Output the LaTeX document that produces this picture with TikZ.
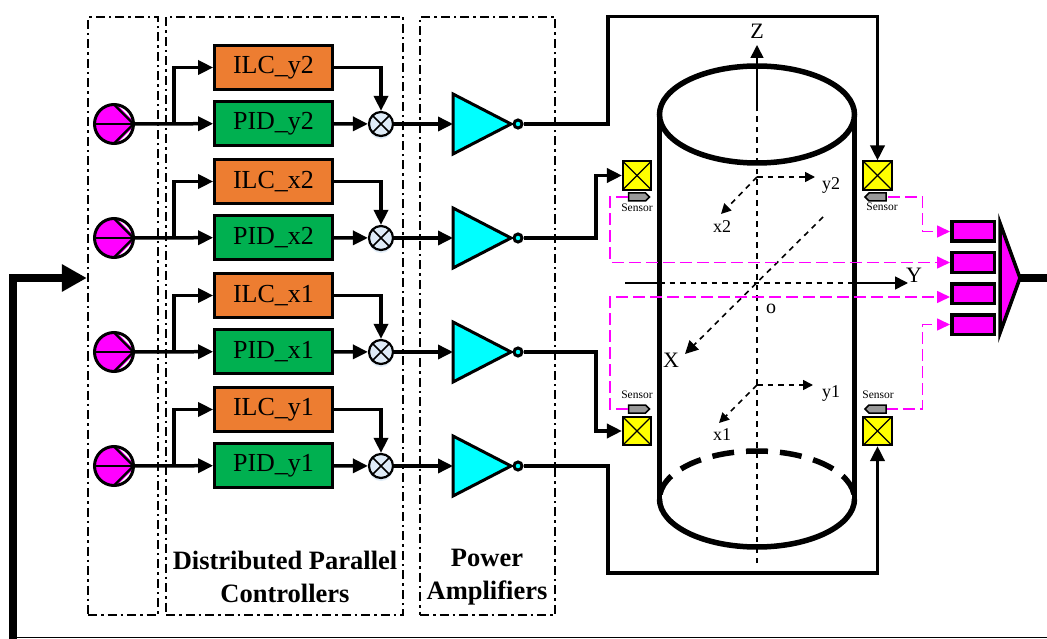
\documentclass[tikz,border=0pt]{standalone}
\usepackage{fontspec}
\setmainfont{Liberation Serif}
\usetikzlibrary{arrows.meta,shapes.geometric,shapes.symbols,shadows}
\definecolor{ilcorange}{RGB}{237,125,49}
\definecolor{pidgreen}{RGB}{0,176,80}
\definecolor{summing}{RGB}{222,235,247}
\definecolor{pumppink}{RGB}{255,0,255}
\definecolor{ampcyan}{RGB}{0,255,255}
\definecolor{coilyellow}{RGB}{255,255,0}

\begin{document}
\begin{tikzpicture}[x=1pt,y=-1pt,>={Triangle[length=15pt,width=14pt]},node distance=56pt]
  \tikzstyle{frame}=[draw,line width=2.4pt,dash pattern=on 9pt off 4pt on 2.5pt off 4pt,inner sep=0pt]
  \tikzstyle{ilc}=[draw,line width=2.7pt,fill=ilcorange,minimum width=118pt,minimum height=44pt,font=\fontsize{26}{26}\selectfont,inner sep=0pt]
  \tikzstyle{pid}=[ilc,fill=pidgreen]
  \tikzstyle{pump}=[draw,circle,line width=3pt,fill=pumppink,minimum size=39pt,inner sep=0pt,
    path picture={
      \draw[white,line width=1.8pt] (path picture bounding box.center) ++(4pt,-20pt) -- ++(20pt,20pt) -- ++(-20pt,20pt);
      \draw[line width=2.4pt] (path picture bounding box.west) -- (path picture bounding box.east);
      \draw[line width=2.4pt] (path picture bounding box.north) -- (path picture bounding box.east) -- (path picture bounding box.south);
    }]
  \tikzstyle{summer}=[draw,circle,line width=2.2pt,fill=summing,minimum size=24pt,inner sep=0pt,
    drop shadow={shadow xshift=0pt,shadow yshift=-3pt,fill=summing,opacity=0.9},
    path picture={
      \draw[line width=1.6pt] (path picture bounding box.south west) -- (path picture bounding box.north east);
      \draw[line width=1.6pt] (path picture bounding box.north west) -- (path picture bounding box.south east);
    }]
  \tikzstyle{amp}=[draw,isosceles triangle,isosceles triangle stretches,anchor=lower side,outer sep=0pt,line width=3pt,fill=ampcyan,minimum width=60pt,minimum height=58pt,inner sep=0pt]
  \tikzstyle{tip}=[draw,circle,line width=3pt,fill=ampcyan,minimum size=8pt,inner sep=0pt]
  \tikzstyle{coil}=[draw,line width=1.6pt,fill=coilyellow,minimum size=28.5pt,inner sep=0pt,
    path picture={
      \draw[line width=1.3pt] (path picture bounding box.south west) -- (path picture bounding box.north east);
      \draw[line width=1.3pt] (path picture bounding box.north west) -- (path picture bounding box.south east);
    }]
  \tikzstyle{probe}=[draw,signal,signal from=nowhere,line width=1.5pt,fill=gray!80,minimum width=21pt,minimum height=8pt,inner sep=0pt]
  \tikzstyle{adc}=[draw,line width=3.5pt,fill=pumppink,minimum width=42.5pt,minimum height=19.5pt,inner sep=0pt]
  \tikzstyle{tiny}=[font=\fontsize{11.5}{11.5}\selectfont,inner sep=0pt]
  \tikzstyle{axlabel}=[font=\fontsize{22}{22}\selectfont,inner sep=0pt]
  \tikzstyle{sublabel}=[font=\fontsize{18}{18}\selectfont,inner sep=0pt]
  \tikzstyle{title}=[font=\bfseries\fontsize{26.5}{33}\selectfont,align=center,inner sep=0pt]
  \tikzstyle{wire}=[line width=3.5pt,line join=miter]
  \tikzstyle{sig}=[line width=1.6pt,pumppink,dash pattern=on 12pt off 5pt,>={Triangle[length=13pt,width=12pt]}]
  \tikzstyle{axis}=[line width=1.6pt,dash pattern=on 5.5pt off 5pt,>={Triangle[length=10pt,width=10pt]}]
  \tikzstyle{axisline}=[line width=1.6pt,>={Triangle[length=13pt,width=13pt]}]

  \useasboundingbox (0,0) rectangle (1047,639);

  % frames
  \node[frame,minimum width=70pt,minimum height=598pt] (frameA) at (123,316) {};
  \node[frame,minimum width=237pt,minimum height=598pt] (frameB) at (284.5,316) {};
  \node[frame,minimum width=135pt,minimum height=598pt] (frameC) at (487.5,316) {};

  % controller rows
  \node[pid]    (pidy2) at (273.5,123.5)  {PID\_y2};
  \node[ilc]    (ilcy2) [above of=pidy2]  {ILC\_y2};
  \node[pump]   (pumpy2) at (114,124)     {};
  \node[summer] (sumy2) at (381,124)      {};
  \node[amp]    (ampy2) at (453,124)      {};
  \node[tip]    (tipy2) at (518,124)      {};

  \node[pid]    (pidx2) at (273.5,237.5)  {PID\_x2};
  \node[ilc]    (ilcx2) [above of=pidx2]  {ILC\_x2};
  \node[pump]   (pumpx2) at (114,238)     {};
  \node[summer] (sumx2) at (381,238)      {};
  \node[amp]    (ampx2) at (453,238)      {};
  \node[tip]    (tipx2) at (518,238)      {};

  \node[pid]    (pidx1) at (273.5,351.5)  {PID\_x1};
  \node[ilc]    (ilcx1) [above of=pidx1]  {ILC\_x1};
  \node[pump]   (pumpx1) at (114,352)     {};
  \node[summer] (sumx1) at (381,352)      {};
  \node[amp]    (ampx1) at (453,352)      {};
  \node[tip]    (tipx1) at (518,352)      {};

  \node[pid]    (pidy1) at (273.5,465.5)  {PID\_y1};
  \node[ilc]    (ilcy1) [above of=pidy1]  {ILC\_y1};
  \node[pump]   (pumpy1) at (114,466)     {};
  \node[summer] (sumy1) at (381,466)      {};
  \node[amp]    (ampy1) at (453,466)      {};
  \node[tip]    (tipy1) at (518,466)      {};

  \draw[->,wire] (pumpy2) -- (pidy2);
  \draw[->,wire] (174,124) |- (ilcy2);
  \draw[->,wire] (pidy2) -- (sumy2);
  \draw[->,wire] (ilcy2) -| (sumy2);
  \draw[->,wire] (sumy2) -- (ampy2.lower side);

  \draw[->,wire] (pumpx2) -- (pidx2);
  \draw[->,wire] (174,238) |- (ilcx2);
  \draw[->,wire] (pidx2) -- (sumx2);
  \draw[->,wire] (ilcx2) -| (sumx2);
  \draw[->,wire] (sumx2) -- (ampx2.lower side);

  \draw[->,wire] (pumpx1) -- (pidx1);
  \draw[->,wire] (174,352) |- (ilcx1);
  \draw[->,wire] (pidx1) -- (sumx1);
  \draw[->,wire] (ilcx1) -| (sumx1);
  \draw[->,wire] (sumx1) -- (ampx1.lower side);

  \draw[->,wire] (pumpy1) -- (pidy1);
  \draw[->,wire] (174,466) |- (ilcy1);
  \draw[->,wire] (pidy1) -- (sumy1);
  \draw[->,wire] (ilcy1) -| (sumy1);
  \draw[->,wire] (sumy1) -- (ampy1.lower side);

  \node[title] (ctrltitle) at (285,577) {Distributed Parallel\\Controllers};
  \node[title] (amptitle) at (487,577)  {Power\\Amplifiers};

  % cylinder
  \draw[line width=5pt] (659.5,114) -- (659.5,499) (854.5,114) -- (854.5,499);
  \draw[line width=5.5pt] (757,114.5) ellipse (97.5pt and 48.5pt);
  \draw[line width=5.5pt] (659.5,499) arc (180:360:97.5pt and 48pt);
  \draw[line width=5.5pt,dash pattern=on 22pt off 12pt,dash phase=11pt] (757,451) arc (90:0:97.5pt and 48pt);
  \draw[line width=5.5pt,dash pattern=on 22pt off 12pt,dash phase=11pt] (757,451) arc (90:180:97.5pt and 48pt);

  % axes
  \node[axlabel] (zlabel) at (757,31)  {Z};
  \node[axlabel] (ylabel) at (914,275) {Y};
  \node[axlabel] (xlabel) at (671,360) {X};
  \node[font=\fontsize{20}{20}\selectfont,inner sep=0pt] (olabel) at (771,309) {o};
  \coordinate (zfoot) at (757,563);
  \coordinate (zmid)  at (757,110);
  \coordinate (zhead) at (757,45);
  \coordinate (yfoot) at (625,283);
  \coordinate (yleft) at (659,283);
  \coordinate (yright) at (855,283);
  \coordinate (yhead) at (908,283);
  \coordinate (xfoot) at (823,217);
  \coordinate (xhead) at (685,354);
  \draw[axis] (zfoot) -- (zmid);
  \draw[->,axisline] (zmid) -- (zhead);
  \draw[axisline] (yfoot) -- (yleft);
  \draw[axis] (yleft) -- (yright);
  \draw[->,axisline] (yright) -- (yhead);
  \draw[->,axis,>={Triangle[length=13pt,width=13pt]}] (xfoot) -- (xhead);

  \coordinate (upper) at (757,177);
  \coordinate (y2head) at (815,177);
  \coordinate (x2head) at (721,214);
  \node[sublabel] (y2label) at (831,185) {y2};
  \node[sublabel] (x2label) at (722,227) {x2};
  \draw[->,axis] (upper) -- (y2head);
  \draw[->,axis] (upper) -- (x2head);
  \coordinate (lower) at (757,385);
  \coordinate (y1head) at (813,385);
  \coordinate (x1head) at (719,423);
  \node[sublabel] (y1label) at (831,393) {y1};
  \node[sublabel] (x1label) at (722,435) {x1};
  \draw[->,axis] (lower) -- (y1head);
  \draw[->,axis] (lower) -- (x1head);

  % coils and sensors
  \node[coil] (coilx2) at (637,175.5)   {};
  \node[coil] (coily2) at (877.5,175.5) {};
  \node[coil] (coilx1) at (637,431)     {};
  \node[coil] (coily1) at (877.5,431)   {};
  \node[probe,signal to=east] (probex2) at (637,197)   {};
  \node[probe,signal to=west] (probey2) at (877.5,197) {};
  \node[probe,signal to=east] (probex1) at (637,409)   {};
  \node[probe,signal to=west] (probey1) at (877.5,409) {};
  \node[tiny] (textx2) at (637,208) {Sensor};
  \node[tiny] (texty2) at (882,207) {Sensor};
  \node[tiny] (textx1) at (637,395) {Sensor};
  \node[tiny] (texty1) at (878,395) {Sensor};

  \draw[->,wire] (tipy2) -- (608,124) -- (608,16.5) -| (coily2);
  \draw[->,wire] (tipx2) -- (596,238) |- (coilx2);
  \draw[->,wire] (tipx1) -- (596,352) |- (coilx1);
  \draw[->,wire] (tipy1) -- (608,466) -- (608,573) -| (coily1);

  % acquisition block
  \node[adc] (adca) at (973,231.5) {};
  \node[adc] (adcb) at (973,262.5) {};
  \node[adc] (adcc) at (973,293.5) {};
  \node[adc] (adcd) at (973,324.5) {};
  \node[draw,isosceles triangle,isosceles triangle stretches,anchor=lower side,outer sep=0pt,line width=3.5pt,fill=pumppink,minimum width=110pt,minimum height=20pt,inner sep=0pt] (mux) at (1000,278) {};

  \coordinate (adcctip) at (950,297);
  \draw[->,sig,dash phase=16pt] (probey2) -- (922.5,197) |- (adca);
  \draw[->,sig] (probex2) -- (610,197) |- (adcb);
  \draw[->,sig] (probex1) -- (610,409) -- (610,297) -- (adcctip);
  \draw[->,sig,dash phase=1pt] (probey1) -- (922.5,409) |- (adcd);

  % feedback
  \coordinate (muxout) at (1047,278);
  \coordinate (cornerR) at (1047,637.5);
  \coordinate (cornerL) at (13,637.5);
  \coordinate (cornerB) at (13,639);
  \coordinate (cornerT) at (13,278);
  \draw[line width=8pt] (mux.apex) -- (muxout);
  \draw[line width=1.5pt] (cornerR) -- (cornerL);
  \draw[->,line width=8pt,>={Triangle[length=25pt,width=26pt]}] (cornerB) -- (cornerT) -- (frameA.west|-cornerT);
\end{tikzpicture}
\end{document}
